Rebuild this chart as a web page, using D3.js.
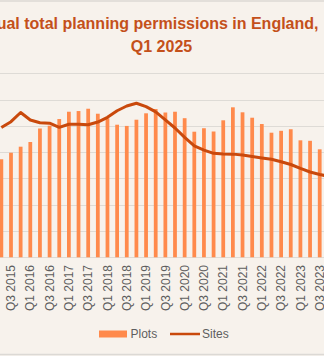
<!DOCTYPE html>
<html>
<head>
<meta charset="utf-8">
<script src="https://cdn.jsdelivr.net/npm/d3@7"></script>
<style>
  html, body { margin: 0; padding: 0; background: #f7f2ec; }
  svg { display: block; }
</style>
</head>
<body>
<svg id="chart"></svg>
<script>
// quarters shown in the crop (Q2 2015 .. Q4 2023)
var quarters = [
  "Q2 2015", "Q3 2015", "Q4 2015",
  "Q1 2016", "Q2 2016", "Q3 2016", "Q4 2016",
  "Q1 2017", "Q2 2017", "Q3 2017", "Q4 2017",
  "Q1 2018", "Q2 2018", "Q3 2018", "Q4 2018",
  "Q1 2019", "Q2 2019", "Q3 2019", "Q4 2019",
  "Q1 2020", "Q2 2020", "Q3 2020", "Q4 2020",
  "Q1 2021", "Q2 2021", "Q3 2021", "Q4 2021",
  "Q1 2022", "Q2 2022", "Q3 2022", "Q4 2022",
  "Q1 2023", "Q2 2023", "Q3 2023", "Q4 2023"
];

// annual total plots (left axis)
var plots = [
  186500, 198900, 210400,
  219300, 245000, 250300, 263000,
  276900, 278200, 282600, 273100,
  264400, 252200, 249900, 261700,
  273900, 282000, 275400, 276900,
  264600, 238900, 245500, 239300,
  260600, 285300, 275800, 265500,
  253500, 237000, 240600, 243600,
  222500, 221600, 205400, 200000
];

// annual total sites (right axis)
var sites = [
  9880, 10320, 11020,
  10450, 10240, 10200, 9890,
  10120, 10120, 10090, 10290,
  10650, 11150, 11510, 11720,
  11460, 11060, 10450, 9840,
  9120, 8470, 8160, 7910,
  7860, 7850, 7780, 7670,
  7560, 7460, 7270, 7060,
  6760, 6490, 6300, 6150
];

var plotsTicks = [0, 50000, 100000, 150000, 200000, 250000, 300000, 350000];

var width = 324;
var height = 356;
var plotTop = 73.3;
var plotBottom = 257.3;

var svg = d3.select("#chart")
  .attr("width", width)
  .attr("height", height);

svg.append("rect")
  .attr("width", width)
  .attr("height", height)
  .attr("fill", "#f7f2ec");

// card border lines
svg.append("line")
  .attr("x1", 0).attr("x2", width)
  .attr("y1", 1).attr("y2", 1)
  .style("stroke", "#dcd9d5")
  .style("stroke-width", 1.5);
svg.append("line")
  .attr("x1", 0).attr("x2", width)
  .attr("y1", 354.5).attr("y2", 354.5)
  .style("stroke", "#dcd9d5")
  .style("stroke-width", 1.5);

var xScale = d3.scaleBand()
  .domain(quarters)
  .range([-3.47, -3.47 + quarters.length * 9.647])
  .paddingInner(0.61)
  .paddingOuter(0.305);

var yPlots = d3.scaleLinear()
  .domain([0, 350000])
  .range([plotBottom, plotTop]);

var ySites = d3.scaleLinear()
  .domain([0, 14000])
  .range([plotBottom, plotTop]);

// gridlines
svg.append("g")
  .selectAll("line")
  .data(plotsTicks)
  .enter()
  .append("line")
  .attr("x1", 0)
  .attr("x2", width)
  .attr("y1", function (d) { return Math.round(yPlots(d)) + 0.5; })
  .attr("y2", function (d) { return Math.round(yPlots(d)) + 0.5; })
  .style("stroke", "#dedbd6")
  .style("stroke-width", 1.2);

// bars
svg.append("g")
  .selectAll("rect")
  .data(quarters)
  .enter()
  .append("rect")
  .attr("x", function (d) { return xScale(d); })
  .attr("width", xScale.bandwidth())
  .attr("y", function (d, i) { return yPlots(plots[i]); })
  .attr("height", function (d, i) { return plotBottom - yPlots(plots[i]); })
  .style("fill", "#ff8a4c");

// sites line
var line = d3.line()
  .x(function (d, i) { return xScale(quarters[i]) + xScale.bandwidth() / 2; })
  .y(function (d) { return ySites(d); });

svg.append("path")
  .datum(sites)
  .attr("d", line)
  .style("fill", "none")
  .style("stroke", "#c9490c")
  .style("stroke-width", 3)
  .style("stroke-linejoin", "round");

// x axis labels (every other quarter)
var xAxis = d3.axisBottom(xScale)
  .tickValues(quarters.filter(function (d) { return d.indexOf("Q1") === 0 || d.indexOf("Q3") === 0; }))
  .tickSize(0);

var gx = svg.append("g")
  .attr("transform", "translate(0," + plotBottom + ")")
  .call(xAxis);
gx.select(".domain").remove();
gx.selectAll("text")
  .attr("transform", "rotate(-90)")
  .attr("x", -7.7)
  .attr("y", 0)
  .attr("dy", "0.35em")
  .attr("text-anchor", "end")
  .style("font-family", "'Liberation Sans', Arial, sans-serif")
  .style("font-size", "12px")
  .style("fill", "#5e5e5e");

// title
svg.append("text")
  .attr("x", 318.5)
  .attr("y", 29)
  .attr("text-anchor", "end")
  .style("font-family", "'Liberation Sans', Arial, sans-serif")
  .style("font-weight", "bold")
  .style("font-size", "16px")
  .style("fill", "#c4501a")
  .text("Annual total planning permissions in England,");
svg.append("text")
  .attr("x", 161.5)
  .attr("y", 52)
  .attr("text-anchor", "middle")
  .style("font-family", "'Liberation Sans', Arial, sans-serif")
  .style("font-weight", "bold")
  .style("font-size", "16px")
  .style("fill", "#c4501a")
  .text("Q1 2025");

// legend
var legend = svg.append("g").attr("transform", "translate(99,334)");
legend.append("rect")
  .attr("x", 0).attr("y", -3.5)
  .attr("width", 28).attr("height", 7)
  .style("fill", "#ff8a4c");
legend.append("text")
  .attr("x", 31.5).attr("y", 0)
  .attr("dy", "0.35em")
  .style("font-family", "'Liberation Sans', Arial, sans-serif")
  .style("font-size", "12px")
  .style("fill", "#5e5e5e")
  .text("Plots");
legend.append("line")
  .attr("x1", 71).attr("x2", 101)
  .attr("y1", 0).attr("y2", 0)
  .style("stroke", "#c9490c")
  .style("stroke-width", 2.5);
legend.append("text")
  .attr("x", 103).attr("y", 0)
  .attr("dy", "0.35em")
  .style("font-family", "'Liberation Sans', Arial, sans-serif")
  .style("font-size", "12px")
  .style("fill", "#5e5e5e")
  .text("Sites");
</script>
</body>
</html>
